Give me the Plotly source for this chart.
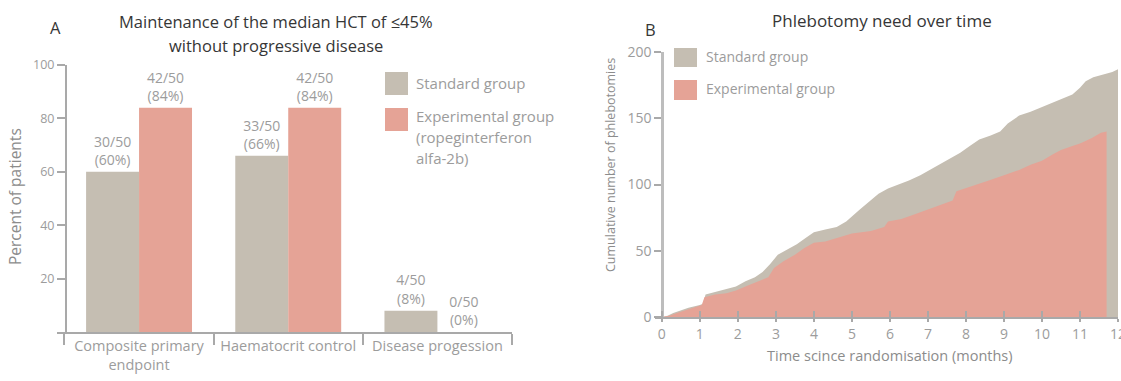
import plotly.graph_objects as go

W, H = 1121, 381

# ---- Panel A data -------------------------------------------------------
endpoints = ["Composite primary<br>endpoint", "Haematocrit control", "Disease progession"]
group_size = 50
standard_n = [30, 33, 4]
experimental_n = [42, 42, 0]

# ---- Panel B data (cumulative phlebotomies over time) ------------------
standard_months = [0.0, 0.15, 0.3, 0.5, 0.7, 1.0, 1.08, 1.15, 1.4, 1.7, 1.95, 2.2, 2.45, 2.65,
                   2.85, 3.05, 3.3, 3.55, 3.8, 4.0, 4.3, 4.6, 4.85, 5.0, 5.2, 5.45, 5.7,
                   5.95, 6.25, 6.5, 6.8, 7.05, 7.3, 7.55, 7.85, 8.1, 8.35, 8.65, 8.9, 9.1,
                   9.4, 9.7, 9.95, 10.25, 10.5, 10.8, 11.0, 11.15, 11.35, 11.6, 11.85, 12.0]
standard_cum = [0, 1, 3, 5, 7, 9, 10, 17, 19, 21, 23, 27, 30, 34,
                40, 47, 51, 55, 60, 64, 66, 68, 72, 76, 81, 87, 93,
                97, 100, 103, 107, 111, 115, 119, 124, 129, 134, 137, 140, 146,
                152, 155, 158, 161, 164, 168, 173, 178, 181, 183, 185, 187]

experimental_months = [0.0, 0.2, 0.4, 0.6, 0.8, 1.05, 1.12, 1.4, 1.7, 1.95, 2.2, 2.45, 2.8,
                       2.95, 3.2, 3.5, 3.75, 4.0, 4.3, 4.65, 5.0, 5.5, 5.85, 5.95, 6.3, 6.6,
                       6.9, 7.2, 7.5, 7.65, 7.75, 8.2, 8.6, 9.0, 9.4, 9.7, 10.0, 10.3, 10.5,
                       10.8, 11.0, 11.3, 11.55, 11.7]
experimental_cum = [0, 1, 3, 5, 7, 9, 15, 17, 18, 20, 23, 26, 30,
                    37, 42, 47, 52, 56, 57, 60, 63, 65, 68, 72, 74, 77,
                    80, 83, 86, 88, 95, 99, 103, 107, 111, 115, 118, 123, 126,
                    129, 131, 135, 139, 140]

month_ticks = list(range(0, 13))
count_ticks = [0, 50, 100, 150, 200]
percent_ticks = [20, 40, 60, 80, 100]

GREY = "#c5beb2"
SALMON = "#e5a396"
AXIS = "#a9a9a9"
TICK_TXT = "#9c9c9c"
LABEL_TXT = "#8c8c8c"
TITLE_TXT = "#363636"
FONT = "Open Sans"


def px(x):
    return x / W


def py(y):
    return 1 - y / H


def pct(n):
    return round(100 * n / group_size)


std_pct = [pct(n) for n in standard_n]
exp_pct = [pct(n) for n in experimental_n]

fig = go.Figure()

# Panel A bars
bar_text_font = dict(family=FONT, size=14, color=TICK_TXT)
fig.add_trace(go.Bar(
    x=endpoints, y=std_pct, marker=dict(color=GREY, line=dict(width=0)),
    text=[f"{n}/{group_size}<br>({p}%)" for n, p in zip(standard_n, std_pct)],
    textposition="outside", textfont=bar_text_font,
    constraintext="none", cliponaxis=False, showlegend=False, xaxis="x", yaxis="y",
))
fig.add_trace(go.Bar(
    x=endpoints, y=exp_pct, marker=dict(color=SALMON, line=dict(width=0)),
    text=[f"{n}/{group_size}<br>({p}%)" for n, p in zip(experimental_n, exp_pct)],
    textposition="outside", textfont=bar_text_font,
    constraintext="none", cliponaxis=False, showlegend=False, xaxis="x", yaxis="y",
))

# Panel B cumulative areas
fig.add_trace(go.Scatter(
    x=standard_months, y=standard_cum, mode="lines", line=dict(width=0),
    fill="tozeroy", fillcolor=GREY, showlegend=False, xaxis="x2", yaxis="y2",
))
fig.add_trace(go.Scatter(
    x=experimental_months, y=experimental_cum, mode="lines", line=dict(width=0),
    fill="tozeroy", fillcolor=SALMON, showlegend=False, xaxis="x2", yaxis="y2",
))
# carrier trace for the inner tick overlay of panel B's time axis
fig.add_trace(go.Scatter(x=[0], y=[0], mode="markers", marker=dict(opacity=0),
                         showlegend=False, hoverinfo="skip", xaxis="x3", yaxis="y2"))

fig.update_layout(
    width=W, height=H, margin=dict(l=0, r=0, t=0, b=0),
    paper_bgcolor="white", plot_bgcolor="white",
    barmode="group", bargap=0.29, bargroupgap=0,
    font=dict(family=FONT),
    xaxis=dict(
        domain=[px(57), px(512)], range=[-0.55, 2.5], anchor="y",
        showline=True, linecolor=AXIS, linewidth=2, showgrid=False, zeroline=False,
        ticks="outside", tickson="boundaries", ticklen=11, tickcolor=AXIS, tickwidth=1.5,
        tickfont=dict(family=FONT, size=14.5, color=TICK_TXT), automargin=False,
    ),
    yaxis=dict(
        domain=[py(332), py(65)], range=[0, 100], anchor="free", position=px(66),
        showline=True, linecolor=AXIS, linewidth=2, showgrid=False, zeroline=False,
        tickvals=percent_ticks, ticks="outside", ticklen=8, tickcolor=AXIS, tickwidth=1.5,
        tickfont=dict(family=FONT, size=12.5, color=TICK_TXT), automargin=False,
    ),
    xaxis2=dict(
        domain=[px(655), px(1118)], range=[-0.18, 12], anchor="y2",
        showline=True, linecolor=AXIS, linewidth=2, showgrid=False, zeroline=False,
        tickvals=month_ticks, ticks="outside", ticklen=3, tickcolor=AXIS, tickwidth=1.5,
        tickfont=dict(family=FONT, size=14, color=TICK_TXT), automargin=False,
        ticklabeloverflow="allow",
    ),
    xaxis3=dict(
        domain=[px(655), px(1118)], range=[-0.18, 12], anchor="y2", overlaying="x2",
        showline=False, showgrid=False, zeroline=False, showticklabels=False,
        tickvals=month_ticks, ticks="inside", ticklen=6, tickcolor=AXIS, tickwidth=1.5,
    ),
    yaxis2=dict(
        domain=[py(317), py(52)], range=[0, 200], anchor="free", position=px(662),
        showline=True, linecolor="#bdbdbd", linewidth=2.5, showgrid=False, zeroline=False,
        tickvals=count_ticks, ticks="outside", ticklen=7, tickcolor=AXIS, tickwidth=1.5,
        tickfont=dict(family=FONT, size=14, color=TICK_TXT), automargin=False,
    ),
)

annotations = []
shapes = []


def text_at(x, y, s, size, color, xanchor="left", angle=0):
    annotations.append(dict(
        x=px(x), y=py(y), xref="paper", yref="paper", text=s, showarrow=False,
        xanchor=xanchor, yanchor="middle", textangle=angle,
        font=dict(family=FONT, size=size, color=color),
    ))


def swatch(x0, y0, x1, y1, color):
    shapes.append(dict(type="rect", xref="paper", yref="paper",
                       x0=px(x0), x1=px(x1), y0=py(y1), y1=py(y0),
                       fillcolor=color, line=dict(width=0)))


# Panel A headings
text_at(55, 28, "A", 16.5, TITLE_TXT, xanchor="center")
text_at(276, 22, "Maintenance of the median HCT of ≤45%", 16.5, TITLE_TXT, xanchor="center")
text_at(276, 45, "without progressive disease", 16.5, TITLE_TXT, xanchor="center")
text_at(15, 197, "Percent of patients", 15.5, LABEL_TXT, xanchor="center", angle=-90)

# Panel A legend
swatch(385, 72, 408, 95, GREY)
swatch(385, 108, 408, 131, SALMON)
text_at(414, 83, "Standard group", 15, TICK_TXT)
text_at(414, 116, "Experimental group", 15, TICK_TXT)
text_at(414, 137, "(ropeginterferon", 15, TICK_TXT)
text_at(414, 158, "alfa-2b)", 15, TICK_TXT)

# Panel B headings
text_at(650, 30, "B", 16.5, TITLE_TXT, xanchor="center")
text_at(882, 20, "Phlebotomy need over time", 17, TITLE_TXT, xanchor="center")
text_at(610, 165, "Cumulative number of phlebotomies", 12.5, LABEL_TXT, xanchor="center", angle=-90)
text_at(890, 355, "Time scince randomisation (months)", 14.5, LABEL_TXT, xanchor="center")

# Panel B legend
swatch(674, 48, 697, 67, GREY)
swatch(674, 80, 697, 100, SALMON)
text_at(704, 57, "Standard group", 14, TICK_TXT)
text_at(704, 89, "Experimental group", 14, TICK_TXT)

fig.update_layout(annotations=annotations, shapes=shapes)

fig.write_html("out.html")
